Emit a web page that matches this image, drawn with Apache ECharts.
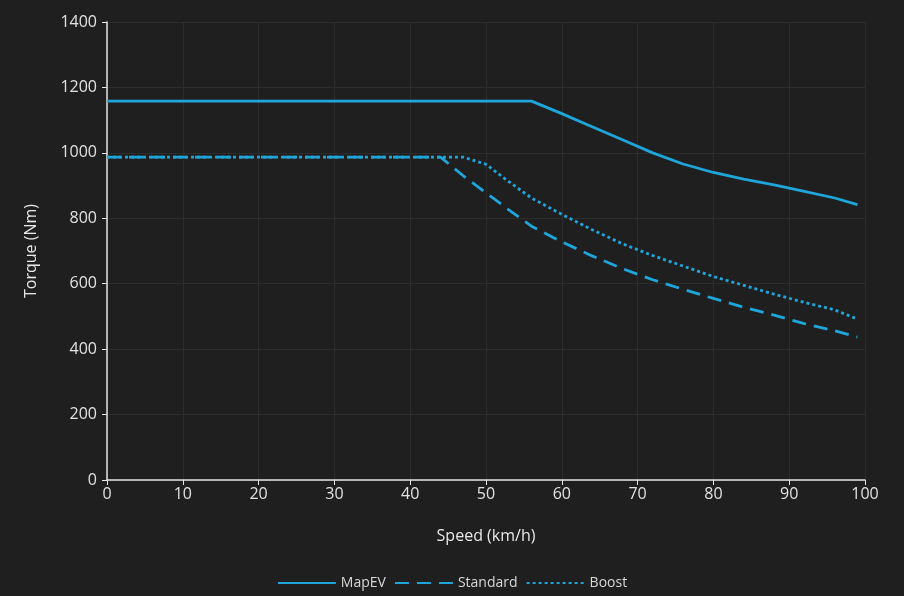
<!DOCTYPE html>
<html><head><meta charset="utf-8">
<script src="https://cdn.jsdelivr.net/npm/echarts@6/dist/echarts.min.js"></script>
<style>html,body{margin:0;padding:0;background:#1f1f1f}#c{width:904px;height:596px}</style>
</head><body><div id="c"></div>
<script>
const seriesNames = ['MapEV', 'Standard', 'Boost'];
const mapEV = [[0,1158],[56,1158],[60,1120],[64,1080],[68,1040],[72,1000],[76,966],[80,940],[84,920],[88,902],[92,882],[96,862],[99,842]];
const standard = [[0,987],[44,987],[47,930],[50,878],[53,826],[56,776],[60,728],[64,685],[68,646],[72,612],[76,583],[80,555],[84,528],[88,504],[92,478],[96,456],[99,437]];
const boost = [[0,987],[47,987],[50,965],[53,912],[56,862],[60,812],[64,765],[68,722],[72,686],[76,654],[80,622],[84,595],[88,568],[92,543],[96,520],[99,492]];
const xTicks = {min:0, max:100, interval:10};
const yTicks = {min:0, max:1400, interval:200};

const color = '#1ea5da';
const font = '"Open Sans", "Noto Sans", sans-serif';
const chart = echarts.init(document.getElementById('c'));
const mk = (name, data, type) => ({
  name, type:'line', data, showSymbol:false, symbol:'none',
  lineStyle:{color, width:2.8, type}, itemStyle:{color}
});
chart.setOption({
  backgroundColor:'#1f1f1f',
  animation:false,
  grid:{left:107, right:39, top:22, bottom:116},
  legend:{
    bottom:1, itemWidth:58, itemHeight:12, itemGap:8,
    textStyle:{color:'#d8d8d8', fontSize:14, fontFamily:font},
    itemStyle:{opacity:0, borderWidth:0},
    data:seriesNames
  },
  xAxis:{
    type:'value', min:xTicks.min, max:xTicks.max, interval:xTicks.interval,
    name:'Speed (km/h)', nameLocation:'middle', nameGap:48,
    nameTextStyle:{color:'#e8e8e8', fontSize:16, fontFamily:font},
    axisLine:{lineStyle:{color:'#e6e6e6', width:1.5}},
    axisTick:{show:true, length:5, lineStyle:{color:'#e6e6e6'}},
    axisLabel:{color:'#e2e2e2', fontSize:16, fontFamily:font, margin:6},
    splitLine:{show:true, lineStyle:{color:'#2c2c2c', width:1}}
  },
  yAxis:{
    type:'value', min:yTicks.min, max:yTicks.max, interval:yTicks.interval,
    name:'Torque (Nm)', nameLocation:'middle', nameGap:68, nameRotate:90,
    nameTextStyle:{color:'#e8e8e8', fontSize:16, fontFamily:font},
    axisLine:{show:true, lineStyle:{color:'#e6e6e6', width:1.5}},
    axisTick:{show:true, length:5, lineStyle:{color:'#e6e6e6'}},
    axisLabel:{color:'#e2e2e2', fontSize:16, fontFamily:font, margin:10, formatter:v => String(v)},
    splitLine:{show:true, lineStyle:{color:'#2c2c2c', width:1}}
  },
  series:[mk('MapEV', mapEV, 'solid'), mk('Standard', standard, [14,8]), mk('Boost', boost, [3,3])]
});
</script></body></html>
